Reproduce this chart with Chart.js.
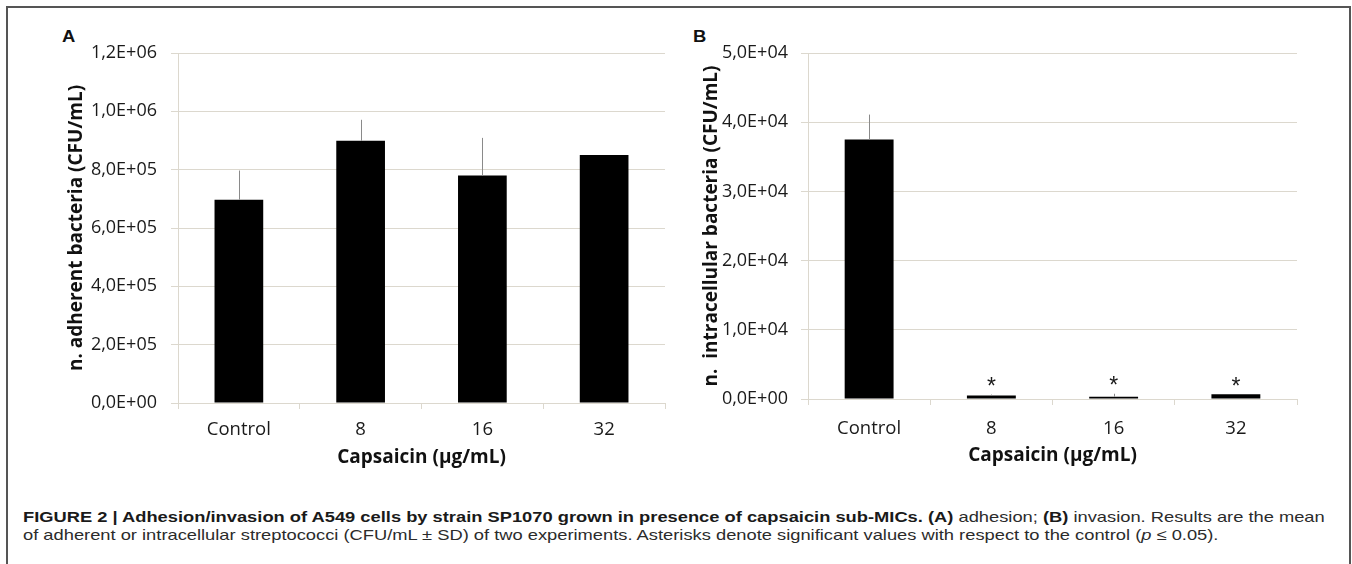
<!DOCTYPE html>
<html>
<head>
<meta charset="utf-8">
<script src="https://cdn.jsdelivr.net/npm/chart.js@4.4.1/dist/chart.umd.min.js"></script>
<style>
  html, body { margin: 0; padding: 0; background: #fff; }
  body { width: 1352px; height: 564px; position: relative; overflow: hidden; }
  .frame { position: absolute; left: 6px; top: 6px; width: 1345px; height: 620px; box-sizing: border-box;
           border: 2px solid #555; border-bottom: none; }
  .panel { position: absolute; top: 10px; height: 470px; }
  .letter { position: absolute; font: bold 16px "Liberation Sans", Arial, sans-serif; line-height: 16px;
            color: #111; transform: scaleX(1.15); transform-origin: left top; }
  .cap { position: absolute; left: 23px; font: 15px "Liberation Sans", Arial, sans-serif; line-height: 17.5px;
         color: #2b2b2b; white-space: nowrap; transform-origin: left top; }
  .cap b { font-weight: bold; color: #1a1a1a; }
</style>
</head>
<body>
<div class="frame"></div>
<div class="letter" style="left:62px; top:29px">A</div>
<div class="letter" style="left:693px; top:29px">B</div>
<div class="panel" style="left:8px; width:672px"><canvas id="chart-a"></canvas></div>
<div class="panel" style="left:690px; width:622px"><canvas id="chart-b"></canvas></div>
<div class="cap" id="cap1" style="top:508px"><b>FIGURE 2 | Adhesion/invasion of A549 cells by strain SP1070 grown in presence of capsaicin sub-MICs. (A)</b> adhesion; <b>(B)</b> invasion. Results are the mean</div>
<div class="cap" id="cap2" style="top:525.5px">of adherent or intracellular streptococci (CFU/mL ± SD) of two experiments. Asterisks denote significant values with respect to the control (<i>p</i> ≤ 0.05).</div>
<script>
'use strict';

// data
const categories = ['Control', '8', '16', '32'];
const adhesionMean = [697000, 899000, 780000, 850000];
const adhesionSd   = [100000, 72000, 129000, 0];
const invasionMean = [37500, 520, 330, 680];
const invasionSd   = [3600, 120, 430, 0];
const invasionSig  = [false, true, true, true];

const FONT = '"Open Sans", Lato, sans-serif';
const GRID = '#dcd8ce';

// Excel-style "1,2E+06"
function fmtSci(v) {
  if (v === 0) return '0,0E+00';
  const e = Math.floor(Math.log10(Math.abs(v)));
  const m = (v / Math.pow(10, e)).toFixed(1).replace('.', ',');
  return m + 'E+' + String(e).padStart(2, '0');
}

const errorBars = {
  id: 'errorBars',
  afterDatasetsDraw(chart, args, opts) {
    const {ctx, scales: {y}} = chart;
    const meta = chart.getDatasetMeta(0);
    const vals = chart.data.datasets[0].data;
    ctx.save();
    ctx.strokeStyle = '#8a8a8a';
    ctx.lineWidth = 1;
    meta.data.forEach((bar, i) => {
      const sd = opts.sd[i] || 0;
      const px = Math.round(bar.x) + 0.5;
      if (sd > 0) {
        ctx.beginPath();
        ctx.moveTo(px, y.getPixelForValue(vals[i]));
        ctx.lineTo(px, y.getPixelForValue(vals[i] + sd));
        ctx.stroke();
      }
      if (opts.sig && opts.sig[i]) {
        ctx.font = '23px "Liberation Sans", Arial, sans-serif';
        ctx.fillStyle = '#1a1a1a';
        ctx.textAlign = 'center';
        ctx.textBaseline = 'alphabetic';
        const m = ctx.measureText('*');
        const cy = y.getPixelForValue(vals[i] + sd) - 13;
        ctx.fillText('*', bar.x, cy + (m.actualBoundingBoxAscent - m.actualBoundingBoxDescent) / 2);
      }
    });
    ctx.restore();
  }
};

function makeChart(id, cfg) {
  return new Chart(document.getElementById(id), {
    type: 'bar',
    data: {
      labels: categories,
      datasets: [{ data: cfg.data, backgroundColor: '#000', borderWidth: 0,
                   categoryPercentage: 1, barPercentage: 0.4 }]
    },
    plugins: [errorBars],
    options: {
      responsive: true, maintainAspectRatio: false, animation: false,
      layout: { padding: { top: 43, right: 15, left: 0, bottom: 0 } },
      plugins: { legend: { display: false }, tooltip: { enabled: false },
                 errorBars: { sd: cfg.sd, sig: cfg.sig } },
      scales: {
        x: {
          grid: { offset: true, drawOnChartArea: false, drawTicks: true, tickLength: 6, color: GRID },
          border: { color: GRID },
          ticks: { color: '#1a1a1a', font: { family: FONT, size: 18.5 }, padding: cfg.xPad },
          title: { display: true, text: 'Capsaicin (µg/mL)', color: '#111',
                   font: { family: FONT, size: 19, weight: 'bold' }, padding: { top: 0, bottom: cfg.xTitlePad } },
          afterFit: s => { s.height = cfg.xHeight; }
        },
        y: {
          min: 0, max: cfg.max,
          grid: { color: GRID, tickLength: 7 },
          border: { color: GRID },
          ticks: { stepSize: cfg.step, color: '#1a1a1a', font: { family: FONT, size: 18 },
                   padding: cfg.yPad, callback: v => fmtSci(v) },
          title: { display: true, text: cfg.yTitle, color: '#111',
                   font: { family: FONT, size: 19, weight: 'bold' }, padding: { top: cfg.yTitlePad, bottom: 0 } },
          afterFit: s => { s.width = cfg.yWidth; }
        }
      }
    }
  });
}

makeChart('chart-a', {
  data: adhesionMean, sd: adhesionSd, max: 1200000, step: 200000,
  yTitle: 'n. adherent bacteria (CFU/mL)',
  yWidth: 170, yPad: 14, yTitlePad: 57.5, xHeight: 77, xPad: 10, xTitlePad: 11.5
});
makeChart('chart-b', {
  data: invasionMean, sd: invasionSd, sig: invasionSig, max: 50000, step: 10000,
  yTitle: 'n.  intracellular bacteria (CFU/mL)',
  yWidth: 118, yPad: 13, yTitlePad: 10.5, xHeight: 81, xPad: 13, xTitlePad: 13.5
});

// fit the caption to the run length it has in the figure
const c1 = document.getElementById('cap1'), c2 = document.getElementById('cap2');
const k = 1302 / c1.offsetWidth;
c1.style.transform = c2.style.transform = 'scaleX(' + k + ')';
</script>
</body>
</html>
